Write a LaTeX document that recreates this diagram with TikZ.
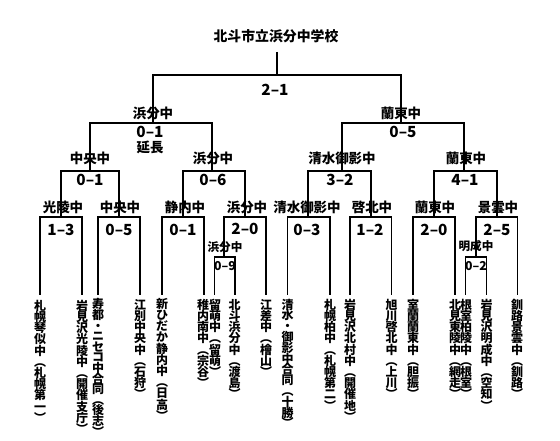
\documentclass[tikz,border=0pt]{standalone}
\usepackage{fontspec}
\setmainfont{Noto Sans CJK JP}
\newlength\vtp
\def\vtloop#1{\ifx\relax#1\else\hbox to 1em{\hss\vrule width0pt height .86\vtp depth .14\vtp\smash{#1}\hss}\expandafter\vtloop\fi}
\newcommand\vt[2][8.4pt]{\vbox{\offinterlineskip\setlength\vtp{#1}\vtloop#2\relax}}
\begin{document}
\begin{tikzpicture}[x=0.75pt,y=-0.75pt,line width=1.1pt,
  title/.style={font=\bfseries\fontsize{10.4}{12}\selectfont,inner sep=0},
  win/.style={font=\bfseries\fontsize{10.1}{12}\selectfont,inner sep=0},
  subwin/.style={font=\bfseries\fontsize{8.7}{10}\selectfont,inner sep=0},
  score/.style={font=\bfseries\fontsize{11.5}{12}\selectfont,inner sep=0},
  subscore/.style={font=\bfseries\fontsize{9.2}{10}\selectfont,inner sep=0},
  team/.style={font=\bfseries\fontsize{9}{10}\selectfont,inner sep=0,anchor=north}]
\useasboundingbox (0,0) rectangle (560,441);
% title and final
\node[title] (title) at (276,36) {北斗市立浜分中学校};
\draw (277,52) -- (277,75);
\draw (153,123) -- (153,75) -- (401,75) -- (401,123);
\node[score] (s21) at (275,90) {2–1};
% level 2
\node[win] (w2a) at (153,113) {浜分中};
\node[win] (w2b) at (401,113) {蘭東中};
\draw (90,171) -- (90,123) -- (212,123) -- (212,171);
\draw (342,171) -- (342,123) -- (464,123) -- (464,171);
\node[score] (s2a) at (150,132) {0–1};
\node[win] (ext) at (150,147) {延長};
\node[score] (s2b) at (403,132) {0–5};
% level 3
\node[win] (w3a) at (90,158) {中央中};
\node[win] (w3b) at (213,158) {浜分中};
\node[win] (w3c) at (342,158) {清水御影中};
\node[win] (w3d) at (466,158) {蘭東中};
\draw (61,217) -- (61,171) -- (119,171) -- (119,217);
\draw (183,217) -- (183,171) -- (245,171) -- (245,217);
\draw (308,217) -- (308,171) -- (371,171) -- (371,217);
\draw (434,217) -- (434,171) -- (497,171) -- (497,217);
\node[score] (s3a) at (90,180) {0–1};
\node[score] (s3b) at (213,180) {0–6};
\node[score] (s3c) at (340,180) {3–2};
\node[score] (s3d) at (465,180) {4–1};
% level 4 labels
\node[win] (w4a) at (63,207) {光陵中};
\node[win] (w4b) at (120,207) {中央中};
\node[win] (w4c) at (185,207) {静内中};
\node[win] (w4d) at (247,207) {浜分中};
\node[win] (w4e) at (307,207) {清水御影中};
\node[win] (w4f) at (372,207) {啓北中};
\node[win] (w4g) at (435,207) {蘭東中};
\node[win] (w4h) at (498,207) {景雲中};
% boxes
\draw (40,295) -- (40,217) -- (82,217) -- (82,295);
\draw (98,295) -- (98,217) -- (140,217) -- (140,295);
\draw (162,295) -- (162,217) -- (204,217) -- (204,295);
\draw (224,257) -- (224,217) -- (266,217) -- (266,295);
\draw (214.5,295) -- (214.5,257) -- (235,257) -- (235,295);
\draw (287.5,295) -- (287.5,217) -- (330,217) -- (330,295);
\draw (350,295) -- (350,217) -- (391.5,217) -- (391.5,295);
\draw (413,295) -- (413,217) -- (455,217) -- (455,295);
\draw (476,257) -- (476,217) -- (517.5,217) -- (517.5,295);
\draw (465.5,295) -- (465.5,257) -- (486.5,257) -- (486.5,295);
\node[score] (s4a) at (61,230) {1–3};
\node[score] (s4b) at (119,230) {0–5};
\node[score] (s4c) at (183,230) {0–1};
\node[score] (s4d) at (245,229) {2–0};
\node[score] (s4e) at (307,230) {0–3};
\node[score] (s4f) at (370,230) {1–2};
\node[score] (s4g) at (434,230) {2–0};
\node[score] (s4h) at (497,230) {2–5};
\node[subwin] (w5a) at (225,247) {浜分中};
\node[subwin] (w5b) at (476,246) {明成中};
\node[subscore] (s5a) at (225,266) {0–9};
\node[subscore] (s5b) at (476,266) {0–2};
% teams
\node[team] (t1) at (40,300) {\vt{札幌琴似中︵札幌第一︶}};
\node[team] (t2) at (82,300) {\vt{岩見沢光陵中︵開催支庁︶}};
\node[team] (t3) at (98,299) {\vt[7.95pt]{寿都・ニセコ中合同︵後志︶}};
\node[team] (t4) at (140,299) {\vt{江別中央中︵石狩︶}};
\node[team] (t5) at (162,298) {\vt{新ひだか静内中︵日高︶}};
\node[team] (t6) at (203,299) {\vt{稚内南中︵宗谷︶}};
\node[team] (t7) at (215,299) {\vt{留萌中︵留萌︶}};
\node[team] (t8) at (234.5,299) {\vt{北斗浜分中︵渡島︶}};
\node[team] (t9) at (266,299) {\vt{江差中︵檜山︶}};
\node[team] (t10) at (287.5,299) {\vt[8.1pt]{清水・御影中合同︵十勝︶}};
\node[team] (t11) at (330,299) {\vt{札幌柏中︵札幌第二︶}};
\node[team] (t12) at (350,299) {\vt{岩見沢北村中︵開催地︶}};
\node[team] (t13) at (391.5,299) {\vt{旭川啓北中︵上川︶}};
\node[team] (t14) at (413,299) {\vt{室蘭蘭東中︵胆振︶}};
\node[team] (t15) at (455,299) {\vt{北見東陵中︵網走︶}};
\node[team] (t16) at (466,299) {\vt{根室柏陵中︵根室︶}};
\node[team] (t17) at (486.5,299) {\vt{岩見沢明成中︵空知︶}};
\node[team] (t18) at (517,299) {\vt{釧路景雲中︵釧路︶}};
\end{tikzpicture}
\end{document}
